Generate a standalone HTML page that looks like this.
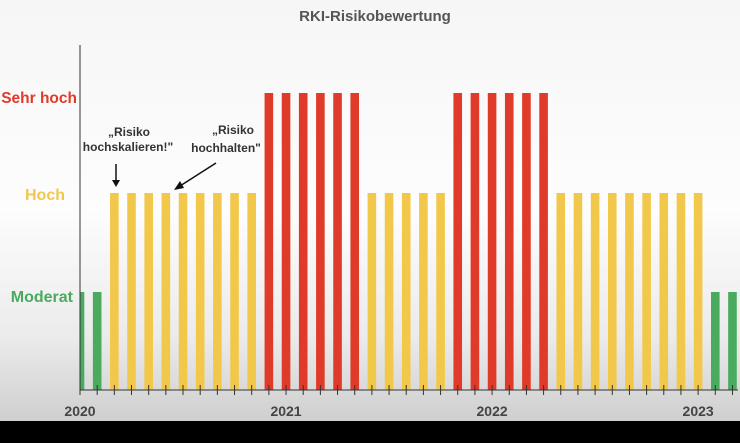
<!DOCTYPE html>
<html><head><meta charset="utf-8"><style>
body{margin:0;width:740px;height:438px;overflow:hidden;background:#000;font-family:"Liberation Sans",sans-serif}
</style></head><body>
<svg id="chart" width="740" height="438" xmlns="http://www.w3.org/2000/svg">
<defs><linearGradient id="bg" x1="0" y1="0" x2="0" y2="1"><stop offset="0" stop-color="#f6f6f6"/><stop offset="0.5" stop-color="#fdfdfd"/><stop offset="0.8" stop-color="#ebebeb"/><stop offset="1" stop-color="#cfcfcf"/></linearGradient></defs>
<rect x="0" y="0" width="740" height="421" fill="url(#bg)"/>
<text x="375" y="21" text-anchor="middle" font-size="15" font-weight="bold" fill="#555">RKI-Risikobewertung</text>
<text x="77" y="103" text-anchor="end" font-size="15.5" font-weight="bold" fill="#e03a2a">Sehr hoch</text>
<text x="65" y="200" text-anchor="end" font-size="16" font-weight="bold" fill="#f2c84b">Hoch</text>
<text x="73" y="302" text-anchor="end" font-size="16" font-weight="bold" fill="#4aaa5e">Moderat</text>
<g id="bars"></g>
<line x1="80" y1="45" x2="80" y2="390" stroke="#333" stroke-width="1"/>
<line x1="80" y1="390" x2="738" y2="390" stroke="#333" stroke-width="1"/>
<g id="ticks"></g>
<text font-size="12" font-weight="bold" fill="#333" text-anchor="middle"><tspan x="129" y="136">„Risiko</tspan><tspan x="128" y="151">hochskalieren!"</tspan></text>
<text font-size="12" font-weight="bold" fill="#333" text-anchor="middle"><tspan x="233" y="134">„Risiko</tspan><tspan x="226" y="152">hochhalten"</tspan></text>
<line x1="116" y1="164" x2="116" y2="182" stroke="#111" stroke-width="1.5"/>
<polygon points="112,180 120,180 116,187" fill="#111"/>
<line x1="216" y1="163" x2="180" y2="186" stroke="#111" stroke-width="1.5"/>
<polygon points="174,190 180,181 184,188" fill="#111"/>
<rect x="0" y="421" width="740" height="17" fill="#000"/>
</svg>
<script>
const levels=[1,1,2,2,2,2,2,2,2,2,2,3,3,3,3,3,3,2,2,2,2,2,3,3,3,3,3,3,2,2,2,2,2,2,2,2,2,1,1];
const yearLabels=["2020","2021","2022","2023"];
const levelNames=["","moderat","hoch","sehr-hoch"];
const colors=["","#4aaa5e","#f2c84b","#e03a2a"];
const ns="http://www.w3.org/2000/svg";
const x0=80,step=17.17,base=390;
const xs=i=>x0+i*step;
const ys=l=>[390,292,193,93][l];
const bars=document.getElementById('bars');
levels.forEach((l,i)=>{
 const r=document.createElementNS(ns,'rect');
 let x=xs(i)-4.3,w=8.6;
 if(x<x0){w-=x0-x;x=x0;}
 r.setAttribute('x',x);r.setAttribute('width',w);
 r.setAttribute('y',ys(l));r.setAttribute('height',base-ys(l));
 r.setAttribute('fill',colors[l]);
 
 
 bars.appendChild(r);
});
const ticks=document.getElementById('ticks');
for(let i=0;i<levels.length;i++){
 const t=document.createElementNS(ns,'line');
 t.setAttribute('x1',xs(i));t.setAttribute('x2',xs(i));t.setAttribute('y1',385);t.setAttribute('y2',395);
 t.setAttribute('stroke','#333');
 
 
 ticks.appendChild(t);
}
yearLabels.forEach((y,k)=>{
 const t=document.createElementNS(ns,'text');
 t.setAttribute('x',xs(k*12));t.setAttribute('y',416);t.setAttribute('text-anchor','middle');
 t.setAttribute('font-size','14');t.setAttribute('font-weight','bold');t.setAttribute('fill','#444');
 t.textContent=y;
 
 
 ticks.appendChild(t);
});
</script>
</body></html>
